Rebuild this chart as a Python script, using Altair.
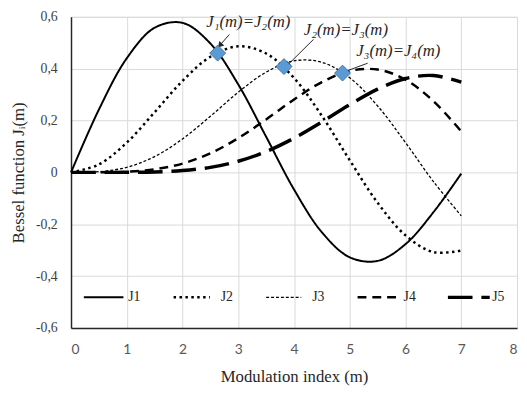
import altair as alt
import pandas as pd

m_values = [0.0, 0.5, 1.0, 1.5, 2.0, 2.5, 3.0, 3.5, 4.0, 4.5, 5.0, 5.5, 6.0, 6.5, 7.0]
J1 = [0.0, 0.2423, 0.4401, 0.5579, 0.5767, 0.4971, 0.3391, 0.1374, -0.0660, -0.2311, -0.3276, -0.3414, -0.2767, -0.1538, -0.0047]
J2 = [0.0, 0.0306, 0.1149, 0.2321, 0.3528, 0.4461, 0.4861, 0.4586, 0.3641, 0.2178, 0.0466, -0.1173, -0.2429, -0.3074, -0.3014]
J3 = [0.0, 0.0026, 0.0196, 0.0610, 0.1289, 0.2166, 0.3091, 0.3868, 0.4302, 0.4247, 0.3648, 0.2561, 0.1148, -0.0353, -0.1676]
J4 = [0.0, 0.0002, 0.0025, 0.0118, 0.0340, 0.0738, 0.1320, 0.2044, 0.2811, 0.3484, 0.3912, 0.3967, 0.3576, 0.2748, 0.1578]
J5 = [0.0, 0.0000, 0.0002, 0.0018, 0.0070, 0.0195, 0.0430, 0.0804, 0.1321, 0.1947, 0.2611, 0.3209, 0.3621, 0.3736, 0.3479]
series_names = ["J1", "J2", "J3", "J4", "J5"]
series_dash = [[1, 0], [2.5, 3.5], [3, 2], [9, 6], [25, 9]]
series_width = [2, 2.5, 1.3, 2.5, 3.5]

# legend entries (drawn inside the plot, in data units)
legend_m0 = [0.23, 1.84, 3.50, 5.14, 6.76]
legend_m1 = [0.94, 2.49, 4.13, 5.90, 7.51]
legend_label_m = [0.99, 2.65, 4.29, 5.93, 7.52]
legend_v = -0.482

cross_m = [2.63, 3.82, 4.87]
cross_v = [0.46, 0.408, 0.383]

label_text = ["J\u2081(m)=J\u2082(m)", "J\u2082(m)=J\u2083(m)", "J\u2083(m)=J\u2084(m)"]
label_m = [3.18, 4.93, 5.87]
label_v = [0.58, 0.55, 0.466]
arrow_m0 = [2.84, 4.35, 5.32]
arrow_v0 = [0.532, 0.513, 0.421]
arrow_m1 = [2.67, 3.88, 4.89]
arrow_v1 = [0.49, 0.413, 0.387]
arrow_angle = [222, 229, 249]

rows = []
for name, vals in zip(series_names, [J1, J2, J3, J4, J5]):
    for m, v in zip(m_values, vals):
        rows.append({"m": m, "value": v, "series": name})
df = pd.DataFrame(rows)

leg_df = pd.DataFrame({"series": series_names, "m0": legend_m0, "m1": legend_m1,
                       "ml": legend_label_m, "v": [legend_v] * 5})
cross_df = pd.DataFrame({"m": cross_m, "value": cross_v})
label_df = pd.DataFrame({"m": label_m, "value": label_v, "text": label_text})
arrow_df = pd.DataFrame({"m0": arrow_m0, "v0": arrow_v0, "m1": arrow_m1, "v1": arrow_v1, "angle": arrow_angle})

xscale = alt.Scale(domain=[0, 8], nice=False)
yscale = alt.Scale(domain=[-0.6, 0.6], nice=False)
dash_scale = alt.Scale(type="ordinal", domain=series_names, range=series_dash)
width_scale = alt.Scale(type="ordinal", domain=series_names, range=series_width)

x_axis = alt.Axis(
    values=[0, 1, 2, 3, 4, 5, 6, 7, 8], format="d", title="Modulation index (m)",
    labelFont="Lato", labelFontSize=14, labelColor="#595959", labelPadding=15,
    tickSize=0, domainColor="#262626", domainWidth=1.5,
    gridColor="#D9D9D9", titleFont="Liberation Serif", titleFontSize=17,
    titleFontWeight="normal", titleColor="#262626", titlePadding=12,
)
y_axis = alt.Axis(
    values=[-0.6, -0.4, -0.2, 0, 0.2, 0.4, 0.6], title="Bessel function J\u1d62(m)",
    labelExpr="datum.value == 0 ? '0' : replace(replace(format(datum.value, '.1f'), '.', ','), '\u2212', '-')",
    labelFont="Liberation Serif", labelFontSize=14, labelColor="#404040", labelPadding=14,
    tickSize=0, domainColor="#262626", domainWidth=1.5,
    gridColor="#D9D9D9", titleFont="Liberation Serif", titleFontSize=17,
    titleFontWeight="normal", titleColor="#262626", titlePadding=8,
)

lines = alt.Chart(df).mark_line(interpolate="catmull-rom", color="black").encode(
    x=alt.X("m:Q", scale=xscale, axis=x_axis),
    y=alt.Y("value:Q", scale=yscale, axis=y_axis),
    strokeDash=alt.StrokeDash("series:N", scale=dash_scale, legend=None),
    strokeWidth=alt.StrokeWidth("series:N", scale=width_scale, legend=None),
    detail="series:N",
)

leg_lines = alt.Chart(leg_df).mark_rule(color="black").encode(
    x="m0:Q", x2="m1:Q", y="v:Q",
    strokeDash=alt.StrokeDash("series:N", scale=dash_scale, legend=None),
    strokeWidth=alt.StrokeWidth("series:N", scale=width_scale, legend=None),
)
leg_text = alt.Chart(leg_df).mark_text(align="left", baseline="middle", font="Liberation Serif",
                                       fontSize=14, color="#262626", dx=2).encode(
    x="ml:Q", y="v:Q", text="series:N"
)

arrows = alt.Chart(arrow_df).mark_rule(color="#262626", strokeWidth=1).encode(
    x="m0:Q", y="v0:Q", x2="m1:Q", y2="v1:Q"
)
heads = alt.Chart(arrow_df).mark_point(shape="triangle-up", filled=True, color="#262626", size=45, opacity=1).encode(
    x="m1:Q", y="v1:Q", angle=alt.Angle("angle:Q", scale=None)
)
diamonds = alt.Chart(cross_df).mark_point(shape="diamond", filled=True, size=260, color="#5B9BD5",
                                          stroke="#41719C", strokeWidth=1, opacity=1).encode(
    x="m:Q", y="value:Q"
)
labels = alt.Chart(label_df).mark_text(font="Liberation Serif", fontSize=17, fontStyle="italic",
                                       color="#262626").encode(
    x="m:Q", y="value:Q", text="text:N"
)

chart = alt.layer(lines, leg_lines, leg_text, arrows, heads, diamonds, labels).properties(
    width=453, height=316,
    autosize=alt.AutoSizeParams(type="none"),
    padding={"left": 64, "top": 6, "right": 2, "bottom": 56},
).configure_view(stroke="#262626", strokeWidth=1.5).configure(background="white")

chart.save("out.html", embed_options={"renderer": "svg", "actions": False})
